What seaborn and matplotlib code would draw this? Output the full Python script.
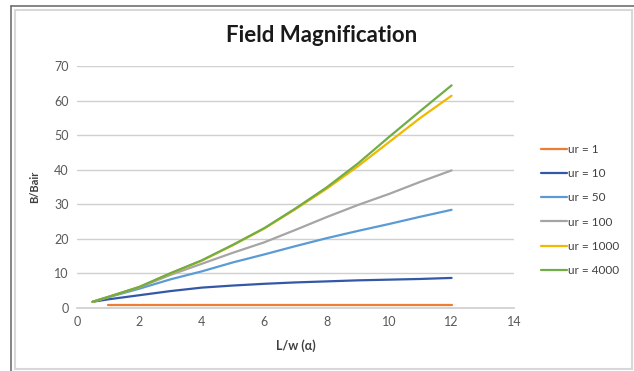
import matplotlib
matplotlib.use("Agg")
import matplotlib.pyplot as plt
import seaborn as sns
import pandas as pd
from matplotlib.lines import Line2D
from matplotlib.patches import Rectangle

# L/w ratio sample points
alpha = [0.5, 1, 2, 3, 4, 5, 6, 7, 8, 9, 10, 11, 12]
alpha_ur1 = [1, 2, 3, 4, 5, 6, 7, 8, 9, 10, 11, 12]

# B/Bair for each relative permeability
ur_1 = [1, 1, 1, 1, 1, 1, 1, 1, 1, 1, 1, 1]
ur_10 = [1.8, 2.5, 3.7, 4.9, 5.9, 6.5, 7.0, 7.4, 7.7, 8.0, 8.2, 8.4, 8.7]
ur_50 = [1.8, 3.1, 5.6, 8.3, 10.6, 13.2, 15.5, 17.9, 20.2, 22.3, 24.3, 26.4, 28.4]
ur_100 = [1.8, 3.2, 6.0, 9.6, 12.8, 16.0, 19.0, 22.6, 26.3, 29.8, 33.0, 36.5, 39.8]
ur_1000 = [1.8, 3.2, 6.1, 10.0, 13.7, 18.2, 23.0, 28.6, 34.5, 41.0, 48.0, 55.0, 61.4]
ur_4000 = [1.8, 3.2, 6.1, 10.1, 13.8, 18.3, 23.1, 28.8, 34.9, 41.8, 49.5, 57.0, 64.4]

labels = ["ur = 1", "ur = 10", "ur = 50", "ur = 100", "ur = 1000", "ur = 4000"]
colors = ["#ED7D31", "#3458A8", "#5B9BD5", "#A5A5A5", "#F0B800", "#70AD47"]

frames = [pd.DataFrame({"alpha": alpha_ur1, "ratio": ur_1, "series": labels[0]})]
for lab, vals in zip(labels[1:], [ur_10, ur_50, ur_100, ur_1000, ur_4000]):
    frames.append(pd.DataFrame({"alpha": alpha, "ratio": vals, "series": lab}))
df = pd.concat(frames, ignore_index=True)

sns.set_theme(style="white")
plt.rcParams["font.family"] = ["Lato", "DejaVu Sans"]

fig = plt.figure(figsize=(6.34, 3.71), dpi=100)
ax = fig.add_axes([77 / 634, 1 - 308 / 371, (514 - 77) / 634, (308 - 66) / 371])

sns.lineplot(data=df, x="alpha", y="ratio", hue="series", hue_order=labels,
             palette=colors, linewidth=1.6, ax=ax, legend=False, sort=True)

ax.set_xlim(0, 14)
ax.set_ylim(0, 70)
ax.set_xticks(range(0, 15, 2))
ax.set_yticks(range(0, 71, 10))
ax.yaxis.grid(True, color="#D0D0D0", linewidth=1.0)
ax.xaxis.grid(False)
ax.set_axisbelow(True)
for side in ["left", "right", "top"]:
    ax.spines[side].set_visible(False)
ax.spines["bottom"].set_color("#D0D0D0")
ax.tick_params(axis="both", length=0, labelsize=9, labelcolor="#595959", pad=6)

ax.set_xlabel("L/w (\u03b1)", fontsize=9, fontweight="bold", color="#404040", labelpad=8)
ax.set_ylabel("B/Bair", fontsize=8, fontweight="bold", color="#404040", labelpad=10)

fig.text(0.508, 1 - 36 / 371, "Field Magnification", ha="center", va="center",
         fontsize=16, fontweight="bold", color="#1a1a1a")

handles = [Line2D([0], [0], color=c, linewidth=1.6) for c in colors]
fig.legend(handles, labels, loc="center left", bbox_to_anchor=(530 / 634, 1 - 210 / 371),
           frameon=False, fontsize=8.5, labelcolor="#404040", handlelength=2.2,
           handletextpad=0.15, labelspacing=1.12)

# chart frame
fig.patches.append(Rectangle((15 / 634, 2 / 371), 617 / 634, 359 / 371, transform=fig.transFigure,
                             fill=False, edgecolor="#D8D8D8", linewidth=1.5))
fig.lines.append(Line2D([11 / 634, 11 / 634], [0, 1 - 6 / 371], transform=fig.transFigure,
                        color="#707070", linewidth=1.2))
fig.lines.append(Line2D([11 / 634, 1], [1 - 6 / 371, 1 - 6 / 371], transform=fig.transFigure,
                        color="#707070", linewidth=1.2))

fig.savefig("out.png", dpi=100)
